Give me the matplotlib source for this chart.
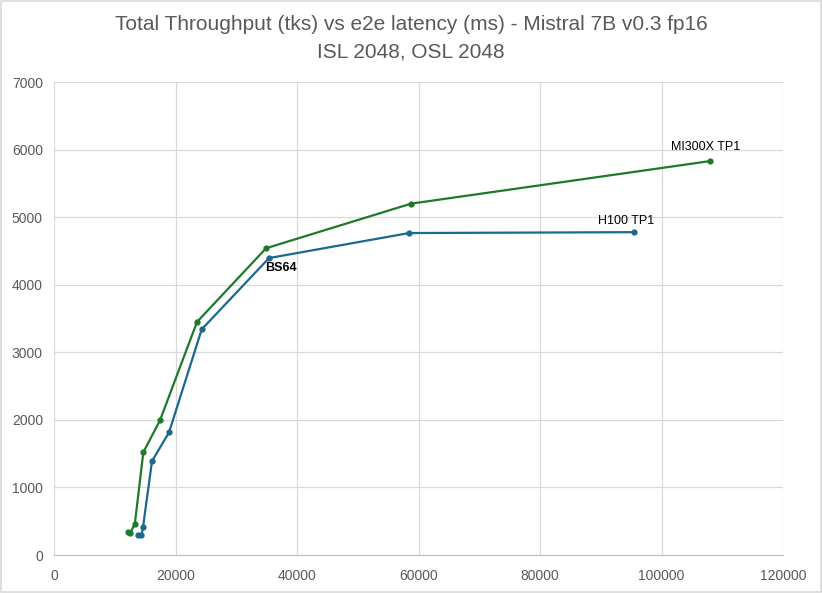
import matplotlib
matplotlib.use("Agg")
import matplotlib.pyplot as plt
from matplotlib.patches import Rectangle

# e2e latency (ms) vs total throughput (tks), batch sizes 1..256
mi300x_latency = [12100, 12500, 13300, 14700, 17450, 23540, 34900, 58760, 107980]
mi300x_tput = [345, 320, 460, 1520, 1995, 3450, 4540, 5200, 5830]
h100_latency = [13900, 14400, 14650, 16130, 18930, 24310, 35390, 58440, 95520]
h100_tput = [296, 296, 414, 1390, 1815, 3340, 4395, 4765, 4778]

GREEN = "#1E7A2A"
BLUE = "#1A6A8E"
GRAY = "#595959"

plt.rcParams["font.family"] = ["Liberation Sans Narrow", "Liberation Sans", "DejaVu Sans"]

fig = plt.figure(figsize=(8.22, 5.93), dpi=100)
ax = fig.add_axes([0.0657, 0.064, 0.887, 0.7977])

ax.plot(mi300x_latency, mi300x_tput, color=GREEN, lw=1.6, marker="o", ms=3.5, zorder=3)
ax.plot(h100_latency, h100_tput, color=BLUE, lw=1.6, marker="o", ms=3.5, zorder=3)

# data labels
ax.annotate("MI300X TP1", (mi300x_latency[-1], mi300x_tput[-1]), xytext=(-3, 6),
            textcoords="offset points", ha="center", va="bottom", fontsize=9, color="black")
ax.annotate("H100 TP1", (h100_latency[-1], h100_tput[-1]), xytext=(-6, 4),
            textcoords="offset points", ha="center", va="bottom", fontsize=9, color="black")
ax.annotate("BS64", (h100_latency[6], h100_tput[6]), xytext=(-3, -3),
            textcoords="offset points", ha="left", va="top", fontsize=9,
            fontweight="bold", color="black")

ax.set_xlim(0, 120000)
ax.set_ylim(0, 7000)
ax.set_xticks(range(0, 120001, 20000))
ax.set_yticks(range(0, 7001, 1000))
ax.grid(True, color="#D9D9D9", lw=0.9)
ax.set_axisbelow(True)
for s in ("top", "right", "left"):
    ax.spines[s].set_visible(False)
ax.spines["bottom"].set_color("#BFBFBF")
ax.tick_params(length=0, labelsize=10, labelcolor=GRAY, pad=8)
ax.tick_params(axis="x", pad=10)

fig.text(0.5, 0.958, "Total Throughput (tks) vs e2e latency (ms) - Mistral 7B v0.3 fp16",
         ha="center", va="center", fontsize=15, color=GRAY)
fig.text(0.5, 0.912, "ISL 2048, OSL 2048", ha="center", va="center", fontsize=15, color=GRAY)

fig.patches.append(Rectangle((0.001, 0.001), 0.998, 0.998, transform=fig.transFigure,
                             fill=False, edgecolor="#D9D9D9", lw=1.2))

fig.savefig("out.png", dpi=100)
